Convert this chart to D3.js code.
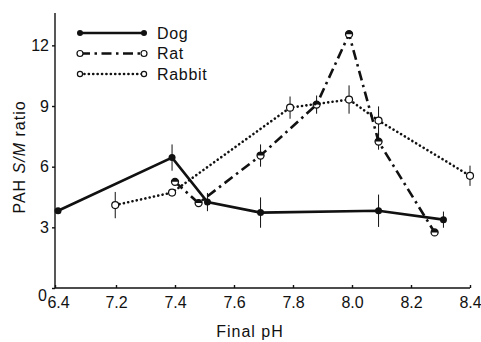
<!DOCTYPE html>
<html>
<head>
<meta charset="utf-8">
<script src="https://cdn.jsdelivr.net/npm/d3@7"></script>
<style>
  body { margin: 0; background: #fff; }
  svg { display: block; font-family: "Liberation Sans", Arial, sans-serif; }
  .axis path, .axis line { stroke: #111; stroke-width: 1.4; }
  .axis text { font-family: "Liberation Sans Narrow", "Liberation Sans", sans-serif; font-size: 16px; fill: #111; }
  .label { font-size: 16px; fill: #111; letter-spacing: 1px; }
</style>
</head>
<body>
<div id="chart"></div>
<script>
// Dades llegides de la figura (pH final, ràtio S/M, error)
const dogPH    = [6.44, 7.39, 7.51, 7.69, 8.09, 8.31];
const dogRatio = [3.82, 6.45, 4.25, 3.73, 3.82, 3.38];
const dogErr   = [0, 0.65, 0.45, 0.75, 0.8, 0.4];

const ratPH    = [7.4, 7.48, 7.69, 7.88, 7.99, 8.09, 8.28];
const ratRatio = [5.25, 4.2, 6.55, 9.07, 12.55, 7.24, 2.75];
const ratErr   = [0, 0, 0.55, 0.45, 0, 0.4, 0];

const rabbitPH    = [7.19, 7.39, 7.79, 7.99, 8.09, 8.4];
const rabbitRatio = [4.1, 4.72, 8.92, 9.32, 8.28, 5.55];
const rabbitErr   = [0.65, 0, 0.55, 0.7, 0.7, 0.5];

const xTicks = [6.4, 7.2, 7.4, 7.6, 7.8, 8.0, 8.2, 8.4];
const yTicks = [0, 3, 6, 9, 12];
const legendNames = ["Dog", "Rat", "Rabbit"];

const width = 481, height = 342;

const svg = d3.select("#chart").append("svg")
    .attr("width", width)
    .attr("height", height);

// L'eix X està trencat entre 6.4 i 7.2
const x = d3.scaleLinear()
    .domain([6.4, 7.2, 8.4])
    .range([55, 116, 470]);

const y = d3.scaleLinear()
    .domain([0, 13.6])
    .range([288, 13]);

// Eix X
const xAxis = svg.append("g")
    .attr("class", "axis")
    .attr("transform", `translate(0, ${y(0)})`)
    .call(d3.axisBottom(x).tickValues(xTicks).tickFormat(d3.format(".1f"))
        .tickSizeInner(-3).tickSizeOuter(0).tickPadding(9));
xAxis.select(".domain").attr("d", `M${x(6.4)},0H${x(8.4)}`);
xAxis.selectAll(".tick text").filter(d => d === 6.4).attr("dx", 3);

// Eix Y
const yAxis = svg.append("g")
    .attr("class", "axis")
    .attr("transform", `translate(${x(6.4)}, 0)`)
    .call(d3.axisLeft(y).tickValues(yTicks)
        .tickSizeInner(3).tickSizeOuter(0).tickPadding(3));
yAxis.select(".domain").attr("d", `M0,${y(13.6)}V${y(0)}`);
yAxis.selectAll(".tick text").filter(d => d === 0).attr("dy", "0.75em").attr("dx", -2);

// Etiquetes
svg.append("text")
    .attr("class", "label")
    .attr("x", 250)
    .attr("y", 337)
    .attr("text-anchor", "middle")
    .text("Final pH");

const yLabel = svg.append("text")
    .attr("class", "label")
    .attr("transform", "rotate(-90)")
    .attr("x", -157)
    .attr("y", 25)
    .attr("text-anchor", "middle");
yLabel.append("tspan").text("PAH  ");
yLabel.append("tspan").style("font-style", "italic").text("S/M");
yLabel.append("tspan").text(" ratio");

// Sèries
const series = [
    { name: "Dog", ph: dogPH, val: dogRatio, err: dogErr, dash: null, width: 2.6, cap: "butt", marker: "filled" },
    { name: "Rat", ph: ratPH, val: ratRatio, err: ratErr, dash: "10,4.5,2.5,4.5", width: 2.6, cap: "butt", marker: "half" },
    { name: "Rabbit", ph: rabbitPH, val: rabbitRatio, err: rabbitErr, dash: "0.1,4.3", width: 2.6, cap: "round", marker: "open" }
];

const line = d3.line().x(d => x(d[0])).y(d => y(d[1]));

function drawMarker(g, cx, cy, type, r) {
    if (type === "filled") {
        g.append("circle").attr("cx", cx).attr("cy", cy).attr("r", r).attr("fill", "#111");
    } else if (type === "half") {
        g.append("circle").attr("cx", cx).attr("cy", cy).attr("r", r)
            .attr("fill", "#fff").attr("stroke", "#111").attr("stroke-width", 1.3);
        g.append("path")
            .attr("d", `M${cx - r},${cy}A${r},${r} 0 0 1 ${cx + r},${cy}Z`)
            .attr("fill", "#111");
    } else {
        g.append("circle").attr("cx", cx).attr("cy", cy).attr("r", r)
            .attr("fill", "#fff").attr("stroke", "#111").attr("stroke-width", 1.2);
    }
}

series.forEach(s => {
    const pts = s.ph.map((p, i) => [p, s.val[i], s.err[i]]);
    const g = svg.append("g");

    // Barres d'error
    g.selectAll(".err")
        .data(pts.filter(d => d[2] > 0))
        .enter().append("line")
        .attr("x1", d => x(d[0])).attr("x2", d => x(d[0]))
        .attr("y1", d => y(d[1] + d[2])).attr("y2", d => y(d[1] - d[2]))
        .attr("stroke", "#111").attr("stroke-width", 1);

    g.append("path")
        .attr("d", line(pts))
        .attr("fill", "none")
        .attr("stroke", "#111")
        .attr("stroke-width", s.width)
        .attr("stroke-linecap", s.cap)
        .attr("stroke-dasharray", s.dash);

    pts.forEach(d => drawMarker(g, x(d[0]), y(d[1]), s.marker, 3.5));
});

// Llegenda
const legend = svg.append("g");
legendNames.forEach((name, i) => {
    const s = series.find(d => d.name === name);
    const ly = 33 + i * 20.5;
    legend.append("line")
        .attr("x1", 80).attr("x2", 144)
        .attr("y1", ly).attr("y2", ly)
        .attr("stroke", "#111")
        .attr("stroke-width", s.width)
        .attr("stroke-linecap", s.cap)
        .attr("stroke-dasharray", s.dash);
    const mk = s.marker === "half" ? "open" : s.marker;
    drawMarker(legend, 80, ly, mk, s.marker === "open" ? 2.6 : 3);
    drawMarker(legend, 144, ly, mk, s.marker === "open" ? 2.6 : 3);
    legend.append("text")
        .attr("class", "label")
        .attr("x", 157)
        .attr("y", ly)
        .attr("dy", "0.36em")
        .style("letter-spacing", "0.7px")
        .text(name);
});
</script>
</body>
</html>
